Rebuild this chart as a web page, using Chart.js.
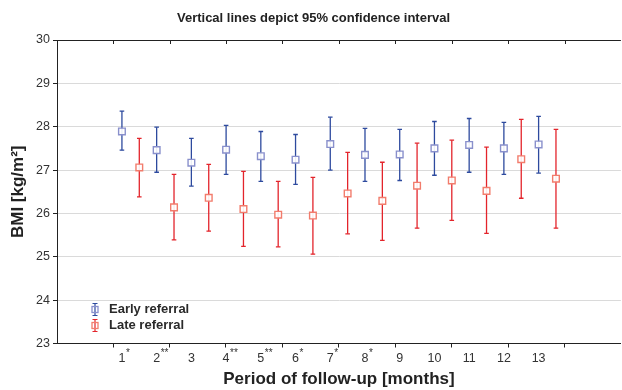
<!DOCTYPE html>
<html>
<head>
<meta charset="utf-8">
<script src="https://cdn.jsdelivr.net/npm/chart.js@4.4.1/dist/chart.umd.min.js"></script>
<style>
html, body { margin: 0; padding: 0; overflow: hidden; background: #fff; }
#wrap { width: 627px; height: 390px; }
</style>
</head>
<body>
<div id="wrap"><canvas id="canvas"></canvas></div>
<script>
//data
var months = [1, 2, 3, 4, 5, 6, 7, 8, 9, 10, 11, 12, 13];
var monthStars = ['*', '**', '', '**', '**', '*', '*', '*', '', '', '', '', ''];
var lateShift = 0.5;                       // late group sits half a step right of the month

var earlyMean = [27.89, 27.46, 27.17, 27.47, 27.32, 27.24, 27.60, 27.35, 27.36, 27.50, 27.58, 27.50, 27.59];
var earlyLow  = [27.46, 26.95, 26.63, 26.90, 26.74, 26.67, 27.00, 26.74, 26.76, 26.88, 26.95, 26.90, 26.93];
var earlyHigh = [28.36, 27.99, 27.73, 28.03, 27.89, 27.82, 28.22, 27.96, 27.94, 28.12, 28.19, 28.10, 28.24];

var lateMean = [27.06, 26.14, 26.36, 26.10, 25.97, 25.95, 26.46, 26.29, 26.64, 26.76, 26.52, 27.25, 26.80];
var lateLow  = [26.38, 25.39, 25.59, 25.24, 25.23, 25.06, 25.53, 25.38, 25.66, 25.84, 25.54, 26.35, 25.66];
var lateHigh = [27.73, 26.90, 27.13, 26.97, 26.74, 26.83, 27.41, 27.18, 27.62, 27.69, 27.53, 28.17, 27.94];

var yTicks = [23, 24, 25, 26, 27, 28, 29, 30];
var xMarks = [0.747, 2.372, 3.997, 5.622, 7.247, 8.872, 10.497, 12.122, 13.747];   // plain tick marks on the frame

var seriesNames = ['Early referral', 'Late referral'];

//styles
var earlyBar = '#2d4a9e', earlyBox = '#8990cc';
var lateBar = '#e3242b', lateBox = '#f27c6c';
var fontName = "'Liberation Sans', Arial, sans-serif";
var ink = '#222';

function barPoints(shift, low, high) {
    var out = [];
    for (var i = 0; i < months.length; i++) {
        out.push({x: months[i] + shift, y: low[i]});
        out.push({x: months[i] + shift, y: high[i]});
        out.push({x: months[i] + shift, y: null});
    }
    return out;
}

function meanPoints(shift, mean) {
    return mean.map(function (v, i) { return {x: months[i] + shift, y: v}; });
}

function barSet(data, color) {
    return {
        type: 'line', data: data, order: 2,
        borderColor: color, borderWidth: 1.3, spanGaps: false,
        pointStyle: 'line', pointRadius: 2.3, pointBorderColor: color, pointBorderWidth: 1.3,
        pointHoverRadius: 2.3
    };
}

function boxSet(label, data, color) {
    return {
        type: 'scatter', label: label, data: data, order: 1,
        pointStyle: 'rect', pointRadius: 4.7, pointBorderWidth: 1.4,
        pointBorderColor: color, pointBackgroundColor: 'rgba(255,255,255,0.9)',
        pointHoverRadius: 4.7
    };
}

//frame: top line with inward ticks, superscript stars, legend inside plot
var framePlugin = {
    id: 'frame',
    afterDraw: function (chart) {
        var ctx = chart.ctx, a = chart.chartArea, xs = chart.scales.x;
        ctx.save();
        ctx.strokeStyle = ink;
        ctx.lineWidth = 1;
        ctx.beginPath();
        ctx.moveTo(a.left, a.top + 0.5);
        ctx.lineTo(a.right, a.top + 0.5);
        xMarks.forEach(function (v) {
            var px = Math.round(xs.getPixelForValue(v)) + 0.5;
            ctx.moveTo(px, a.top);
            ctx.lineTo(px, a.top + 4);
        });
        ctx.stroke();

        // stars after month numbers
        ctx.fillStyle = '#333';
        ctx.textBaseline = 'top';
        ctx.textAlign = 'left';
        months.forEach(function (m, i) {
            if (!monthStars[i]) return;
            ctx.font = '12.5px ' + fontName;
            var w = ctx.measureText(String(m)).width;
            ctx.font = '10px ' + fontName;
            ctx.fillText(monthStars[i], xs.getPixelForValue(m) + w / 2 + 0.5, a.bottom + 5);
        });

        // legend
        var rows = [[seriesNames[0], earlyBar, earlyBox], [seriesNames[1], lateBar, lateBox]];
        var lx = a.left + 38, ly = a.bottom - 34;
        rows.forEach(function (r, i) {
            var cy = ly + i * 16;
            ctx.strokeStyle = r[1];
            ctx.lineWidth = 1.2;
            ctx.beginPath();
            ctx.moveTo(lx, cy - 6); ctx.lineTo(lx, cy + 6);
            ctx.moveTo(lx - 2.5, cy - 6); ctx.lineTo(lx + 2.5, cy - 6);
            ctx.moveTo(lx - 2.5, cy + 6); ctx.lineTo(lx + 2.5, cy + 6);
            ctx.stroke();
            ctx.strokeStyle = r[2];
            ctx.lineWidth = 1.3;
            ctx.strokeRect(lx - 3, cy - 3, 6, 6);
            ctx.fillStyle = '#2a2a2a';
            ctx.font = 'bold 13px ' + fontName;
            ctx.textBaseline = 'middle';
            ctx.fillText(r[0], lx + 14, cy);
        });
        ctx.restore();
    }
};

var config = {
    data: {
        datasets: [
            boxSet(seriesNames[0], meanPoints(0, earlyMean), earlyBox),
            boxSet(seriesNames[1], meanPoints(lateShift, lateMean), lateBox),
            barSet(barPoints(0, earlyLow, earlyHigh), earlyBar),
            barSet(barPoints(lateShift, lateLow, lateHigh), lateBar)
        ]
    },
    options: {
        responsive: true,
        maintainAspectRatio: false,
        animation: false,
        layout: {padding: 0},
        plugins: {
            legend: {display: false},
            tooltip: {enabled: false},
            title: {
                display: true,
                text: 'Vertical lines depict 95% confidence interval',
                color: ink,
                font: {family: fontName, size: 13, weight: 'bold'},
                padding: {top: 11, bottom: 13.4}
            }
        },
        scales: {
            x: {
                type: 'linear', min: -0.87, max: 15.37,
                afterBuildTicks: function (s) {
                    s.ticks = months.map(function (v) { return {value: v}; })
                        .concat(xMarks.map(function (v) { return {value: v}; }));
                },
                afterFit: function (s) { s.height = 46.5; },
                grid: {
                    display: true, drawOnChartArea: false, drawTicks: true, tickLength: 4,
                    tickColor: function (c) {
                        return months.indexOf(c.tick.value) >= 0 ? 'rgba(0,0,0,0)' : ink;
                    }
                },
                border: {color: ink, width: 1},
                ticks: {
                    autoSkip: false, maxRotation: 0, minRotation: 0, padding: 4,
                    color: '#333', font: {family: fontName, size: 12.5},
                    callback: function (v) { return months.indexOf(v) >= 0 ? String(v) : ''; }
                },
                title: {
                    display: true, text: 'Period of follow-up [months]', color: ink,
                    font: {family: fontName, size: 17, weight: 'bold'},
                    padding: {top: 2, bottom: 0}
                }
            },
            y: {
                min: 23, max: 30,
                afterBuildTicks: function (s) {
                    s.ticks = yTicks.map(function (v) { return {value: v}; });
                },
                afterFit: function (s) { s.width = 57; },
                grid: {color: '#dadada', tickColor: ink, tickLength: 4, lineWidth: 1},
                border: {color: ink, width: 1},
                ticks: {color: '#333', font: {family: fontName, size: 12.5}, padding: 3},
                title: {
                    display: true, text: 'BMI [kg/m²]', color: ink,
                    font: {family: fontName, size: 17, weight: 'bold'},
                    padding: {top: 8, bottom: 0}
                }
            }
        }
    },
    plugins: [framePlugin]
};

window.onload = function () {
    var ctx = document.getElementById('canvas').getContext('2d');
    window.bmiChart = new Chart(ctx, config);
};
</script>
</body>
</html>
